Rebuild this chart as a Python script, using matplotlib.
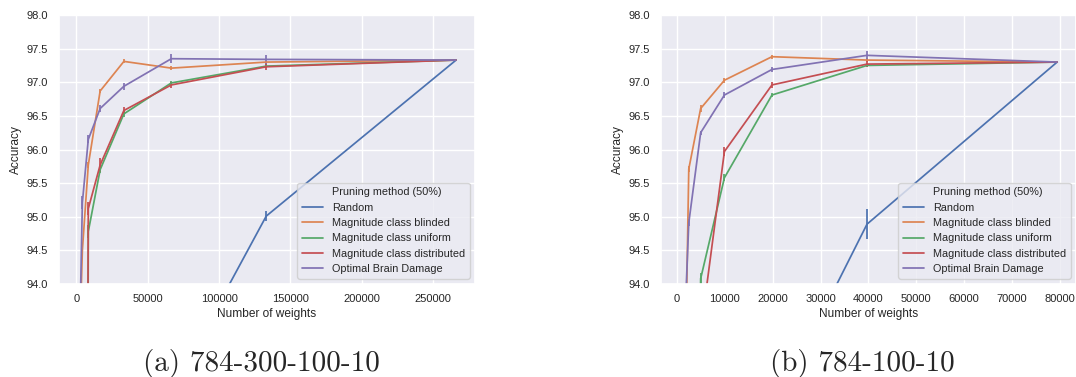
import matplotlib
matplotlib.use("Agg")
import matplotlib.pyplot as plt
from matplotlib.lines import Line2D
import seaborn as sns

# Dati: pruning 50% ad ogni passo
metodi = ["Random", "Magnitude class blinded", "Magnitude class uniform",
          "Magnitude class distributed", "Optimal Brain Damage"]
colori = ["#4C72B0", "#DD8452", "#55A868", "#C44E52", "#8172B3"]

# (a) 784-300-100-10
pesi_a = [266200, 133100, 66550, 33275, 16637, 8319, 4159, 2080, 1040]
acc_a = [
    [97.33, 95.01, 92.40, 88.5, 82.0, 72.0, 55.0, 38.0, 25.0],
    [97.33, 97.30, 97.21, 97.31, 96.87, 95.77, 94.50, 93.0, 70.0],
    [97.33, 97.24, 96.99, 96.53, 95.70, 94.78, 60.0, 30.0, 15.0],
    [97.33, 97.23, 96.96, 96.58, 95.77, 95.12, 70.0, 40.0, 20.0],
    [97.33, 97.34, 97.35, 96.94, 96.61, 96.15, 95.21, 93.0, 85.0],
]
err_a = [
    [0.0, 0.08, 0.10, 0.15, 0.2, 0.3, 0.5, 0.8, 1.0],
    [0.0, 0.02, 0.03, 0.03, 0.03, 0.05, 0.10, 0.3, 0.5],
    [0.0, 0.03, 0.03, 0.04, 0.05, 0.10, 0.5, 0.8, 1.0],
    [0.0, 0.05, 0.05, 0.05, 0.10, 0.10, 0.5, 0.8, 1.0],
    [0.0, 0.07, 0.07, 0.05, 0.05, 0.06, 0.10, 0.3, 0.5],
]

# (b) 784-100-10
pesi_b = [79400, 39700, 19850, 9925, 4962, 2481, 1240, 620]
acc_b = [
    [97.30, 94.89, 92.08, 87.0, 78.0, 62.0, 45.0, 30.0],
    [97.30, 97.33, 97.38, 97.03, 96.61, 95.71, 90.5, 60.0],
    [97.30, 97.25, 96.81, 95.58, 94.08, 80.0, 60.0, 40.0],
    [97.30, 97.27, 96.96, 95.97, 93.29, 80.0, 60.0, 40.0],
    [97.30, 97.40, 97.19, 96.81, 96.25, 94.91, 92.7, 60.0],
]
err_b = [
    [0.0, 0.22, 0.3, 0.4, 0.5, 0.6, 0.8, 1.0],
    [0.0, 0.03, 0.03, 0.04, 0.05, 0.05, 0.3, 0.5],
    [0.0, 0.03, 0.03, 0.05, 0.08, 0.3, 0.5, 0.8],
    [0.0, 0.05, 0.05, 0.06, 0.10, 0.3, 0.5, 0.8],
    [0.0, 0.07, 0.04, 0.05, 0.03, 0.05, 0.3, 0.5],
]

sns.set_theme(style="darkgrid")
plt.rcParams['font.family'] = ['Liberation Sans', 'DejaVu Sans']

fig = plt.figure(figsize=(10.76, 3.77), dpi=100)
ax1 = fig.add_axes([59/1076, 93/377, 416/1076, 269/377])
ax2 = fig.add_axes([661/1076, 93/377, 415/1076, 269/377])


def disegna(ax, pesi, acc, err, xticks):
    for nome, col, y, e in zip(metodi, colori, acc, err):
        ax.errorbar(pesi, y, yerr=e, color=col, lw=1.25, elinewidth=1.25,
                    capsize=0, label=nome)
    ax.set_ylim(94.0, 98.0)
    ax.set_yticks([94.0, 94.5, 95.0, 95.5, 96.0, 96.5, 97.0, 97.5, 98.0])
    ax.set_yticklabels([f"{v:.1f}" for v in ax.get_yticks()])
    ax.set_xticks(xticks)
    ax.tick_params(axis='x', labelsize=8, pad=7, length=0)
    ax.tick_params(axis='y', labelsize=8, pad=8, length=0)
    ax.set_xlabel("Number of weights", fontsize=8.6, labelpad=3)
    ax.set_ylabel("Accuracy", fontsize=8.6, labelpad=3)

    # legenda in stile seaborn: titolo come prima voce senza linea
    maniglie = [Line2D([], [], color='none')]
    etichette = ["Pruning method (50%)"]
    for nome, col in zip(metodi, colori):
        maniglie.append(Line2D([], [], color=col, lw=1.25))
        etichette.append(nome)
    ax.legend(maniglie, etichette, loc='lower right', fontsize=7.8,
              facecolor='#EAEAF2', edgecolor='0.8', framealpha=0.8)


disegna(ax1, pesi_a, acc_a, err_a, [0, 50000, 100000, 150000, 200000, 250000])
disegna(ax2, pesi_b, acc_b, err_b, list(range(0, 80001, 10000)))

# didascalie sotto i grafici
fig.text(261/1076, 6/377, "(a) 784-300-100-10", ha='center', va='baseline',
         fontsize=21, family=['cmr10', 'DejaVu Serif'])
fig.text(862/1076, 6/377, "(b) 784-100-10", ha='center', va='baseline',
         fontsize=21, family=['cmr10', 'DejaVu Serif'])

fig.savefig("out.png", dpi=100)
